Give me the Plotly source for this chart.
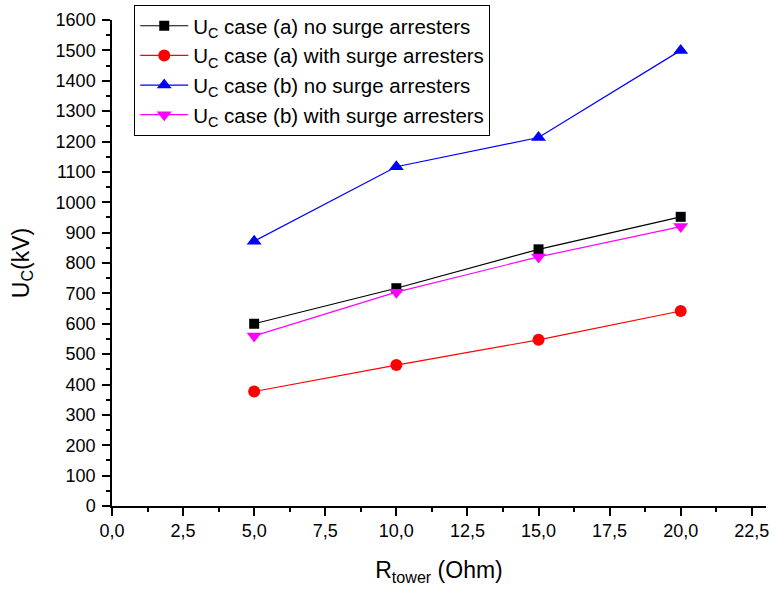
import plotly.graph_objects as go

r_tower = [5, 10, 15, 20]
uc_a_no = [600, 717, 845, 952]
uc_a_with = [377, 464, 547, 642]
uc_b_no = [872, 1117, 1213, 1500]
uc_b_with = [560, 704, 820, 920]

names = [
    "U<sub>C</sub> case (a) no surge arresters",
    "U<sub>C</sub> case (a) with surge arresters",
    "U<sub>C</sub> case (b) no surge arresters",
    "U<sub>C</sub> case (b) with surge arresters",
]
series = [uc_a_no, uc_a_with, uc_b_no, uc_b_with]
colors = ["#000000", "#ff0000", "#0000ff", "#ff00ff"]
symbols = ["square", "circle", "triangle-up", "triangle-down"]
sizes = [10, 12, 13, 13]

xticks = [0, 2.5, 5, 7.5, 10, 12.5, 15, 17.5, 20, 22.5]
xticklabels = ["0,0", "2,5", "5,0", "7,5", "10,0", "12,5", "15,0", "17,5", "20,0", "22,5"]
yticks = list(range(0, 1601, 100))

fig = go.Figure()
for n, s, c, sym, sz in zip(names, series, colors, symbols, sizes):
    fig.add_trace(go.Scatter(
        x=r_tower, y=s, name=n, mode="lines+markers",
        line=dict(color=c, width=1.2),
        marker=dict(symbol=sym, size=sz, color=c, line=dict(width=0)),
    ))

font_family = "Liberation Sans, Arial, Helvetica, sans-serif"
fig.update_layout(
    width=774, height=590,
    margin=dict(l=112, r=8, t=20, b=84, autoexpand=False),
    paper_bgcolor="white", plot_bgcolor="white",
    font=dict(family=font_family, color="#000000", size=18),
    showlegend=True,
    legend=dict(
        x=0.034, y=1.031, xanchor="left", yanchor="top",
        bgcolor="white", bordercolor="#000000", borderwidth=1,
        font=dict(size=20.5, family=font_family),
        tracegroupgap=0, itemwidth=48,
    ),
    xaxis=dict(
        range=[0, 23], tickmode="array", tickvals=xticks, ticktext=xticklabels,
        showgrid=False, zeroline=False, showline=True, linecolor="#000000", linewidth=1.5,
        ticks="outside", ticklen=8, tickwidth=1.5, tickcolor="#000000",
        minor=dict(dtick=1.25, tick0=0, ticks="outside", ticklen=4, tickwidth=1.5, tickcolor="#000000"),
        tickfont=dict(size=18), automargin=False, ticklabeloverflow="allow",
        title=dict(text="R<sub>tower</sub> (Ohm)", font=dict(size=23), standoff=22),
    ),
    yaxis=dict(
        range=[0, 1600], tickmode="array", tickvals=yticks,
        showgrid=False, zeroline=False, showline=True, linecolor="#000000", linewidth=1.5,
        ticks="outside", ticklen=8, tickwidth=1.5, tickcolor="#000000",
        minor=dict(dtick=50, tick0=0, ticks="outside", ticklen=4, tickwidth=1.5, tickcolor="#000000"),
        tickfont=dict(size=18), automargin=False, ticklabelstandoff=3,
        title=dict(text="U<sub>C</sub>(kV)", font=dict(size=23), standoff=20),
    ),
)

fig.write_html(
    "out.html",
    config={"displayModeBar": False},
    post_script="document.body.style.margin='0';document.body.style.overflow='hidden';",
)
